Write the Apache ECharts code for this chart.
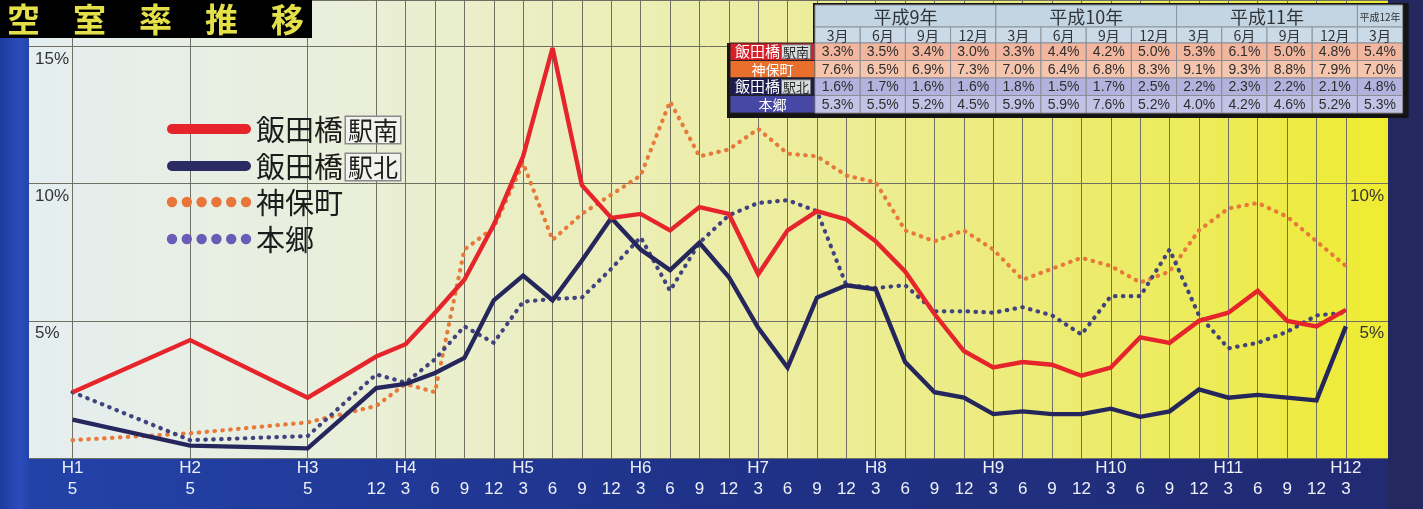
<!DOCTYPE html>
<html>
<head>
<meta charset="utf-8">
<title>空室率推移</title>
<script src="https://cdn.jsdelivr.net/npm/echarts@6/dist/echarts.min.js"></script>
<style>
  html, body { margin: 0; padding: 0; background: #1f3088; }
  #chart { width: 1423px; height: 509px; }
</style>
</head>
<body>
<div id="chart"></div>
<script>
// Survey dates: Heisei year and month of each observation
const heiseiYear  = [1, 2, 3, 3, 4, 4, 4, 4, 5, 5, 5, 5, 6, 6, 6, 6, 7, 7, 7, 7, 8, 8, 8, 8,
                     9, 9, 9, 9, 10, 10, 10, 10, 11, 11, 11, 11, 12];
const surveyMonth = [5, 5, 5, 12, 3, 6, 9, 12, 3, 6, 9, 12, 3, 6, 9, 12, 3, 6, 9, 12, 3, 6, 9, 12,
                     3, 6, 9, 12, 3, 6, 9, 12, 3, 6, 9, 12, 3];

// Vacancy rate (%) per area
const iidabashiSouth = [2.4, 4.3, 2.2, 3.7, 4.15, 5.3, 6.5, 8.5, 11.0, 14.95, 9.95, 8.75,
                        8.9, 8.3, 9.15, 8.9, 6.7, 8.3, 9.0, 8.7, 7.9, 6.8, 5.25, 3.9,
                        3.3, 3.5, 3.4, 3.0, 3.3, 4.4, 4.2, 5.0, 5.3, 6.1, 5.0, 4.8, 5.4];
const jimbocho       = [0.65, 0.9, 1.3, 1.9, 2.7, 2.4, 7.6, 8.4, 10.75, 7.95, 8.9, 9.6,
                        10.3, 13.0, 11.0, 11.25, 12.0, 11.1, 11.0, 10.3, 10.05, 8.3, 7.9, 8.3,
                        7.6, 6.5, 6.9, 7.3, 7.0, 6.4, 6.8, 8.3, 9.1, 9.3, 8.8, 7.9, 7.0];
const iidabashiNorth = [1.4, 0.45, 0.35, 2.55, 2.7, 3.1, 3.65, 5.75, 6.65, 5.75, 7.2, 8.75,
                        7.6, 6.85, 7.85, 6.6, 4.75, 3.3, 5.85, 6.3, 6.15, 3.5, 2.4, 2.2,
                        1.6, 1.7, 1.6, 1.6, 1.8, 1.5, 1.7, 2.5, 2.2, 2.3, 2.2, 2.1, 4.8];
const hongo          = [2.4, 0.65, 0.8, 3.05, 2.75, 3.6, 4.8, 4.2, 5.7, 5.8, 5.85, 6.9,
                        8.05, 6.1, 7.85, 8.85, 9.3, 9.4, 9.0, 6.3, 6.2, 6.3, 5.35, 5.35,
                        5.3, 5.5, 5.2, 4.5, 5.9, 5.9, 7.6, 5.2, 4.0, 4.2, 4.6, 5.2, 5.3];

// Percent ticks on the value axis
const percentTicks = [5, 10, 15];
const percentTicksRight = [5, 10];

// Year groups of the summary table (label, number of quarter columns)
const tableYears = [['平成9年', 4], ['平成10年', 4], ['平成11年', 4], ['平成12年', 1]];
const tableColumnCount = 13;

// Series: base name, boxed station side, values, colours
const areas = [
  { name: '飯田橋駅南', base: '飯田橋', side: '駅南', values: iidabashiSouth, color: '#e5252b', legendColor: '#e5252b', cell: '#d42028', rowBg: '#f2b69e', dotted: false },
  { name: '飯田橋駅北', base: '飯田橋', side: '駅北', values: iidabashiNorth, color: '#25275c', legendColor: '#2a2b62', cell: '#1c1c50', rowBg: '#b2b2de', dotted: false },
  { name: '神保町', base: '神保町', side: '', values: jimbocho, color: '#e67a3a', legendColor: '#e8763a', cell: '#e8702c', rowBg: '#f5c5ae', dotted: true },
  { name: '本郷', base: '本郷', side: '', values: hongo, color: '#41437f', legendColor: '#6a5bb6', cell: '#4747a6', rowBg: '#c2c2e7', dotted: true }
];
// Row order used in the table
const tableOrder = ['飯田橋駅南', '神保町', '飯田橋駅北', '本郷'];

// Months counted from January of Heisei 1
const toMonthIndex = (y, m) => (y - 1) * 12 + (m - 1);
const xValues = heiseiYear.map((y, i) => toMonthIndex(y, surveyMonth[i]));
const monthLabelAt = {};
xValues.forEach((t, i) => { monthLabelAt[t] = String(surveyMonth[i]); });
const yearTickValues = [];
const yearLabelAt = {};
heiseiYear.forEach((y, i) => {
  if (i === 0 || y !== heiseiYear[i - 1]) {
    yearTickValues.push(xValues[i]);
    yearLabelAt[xValues[i]] = 'H' + y;
  }
});

const X_MIN = -0.45, X_MAX = 138.3, Y_MAX = 16.7;
const GRID = { left: 29, right: 35, top: 0, bottom: 51 };
const gridColor = '#6f6f63';

// Line series (dotted ones drawn first, solid on top)
const drawOrder = ['神保町', '本郷', '飯田橋駅北', '飯田橋駅南'];
const series = drawOrder.map((nm, k) => {
  const a = areas.find(s => s.name === nm);
  return {
    name: a.name,
    type: 'line',
    z: 3 + k,
    symbol: 'none',
    smooth: false,
    data: a.values.map((v, i) => [xValues[i], v]),
    lineStyle: a.dotted
      ? { color: a.color, width: 4.2, type: [0.5, 7.4], cap: 'round' }
      : { color: a.color, width: 4.4, join: 'miter', miterLimit: 4 },
    emphasis: { disabled: true }
  };
});

// Summary table drawn with graphic primitives from the last quarters of each series
function buildTable() {
  const els = [];
  const x0 = 730, lw = 85, cw = 45.2, y0 = 5, h1 = 22, h2 = 16, rh = 17.5;
  const xd = x0 + lw;
  const right = xd + tableColumnCount * cw;
  const yRows = y0 + h1 + h2;
  const bottom = yRows + rh * tableOrder.length;
  const z = 50;
  const rect = (x, y, w, h, fill, stroke) => ({
    type: 'rect', z, shape: { x, y, width: w, height: h },
    style: { fill, stroke: stroke || null, lineWidth: stroke ? 1 : 0 }, silent: true
  });
  const text = (x, y, str, font, fill, extra) => ({
    type: 'text', z: z + 1, x, y, silent: true,
    style: Object.assign({ text: str, font, fill, align: 'center', verticalAlign: 'middle' }, extra || {})
  });
  // dark frame behind the table
  els.push(rect(xd - 2, y0 - 2, right - xd + 8, yRows - y0 + 2, '#141414'));
  els.push(rect(x0 - 3, yRows, right - x0 + 9, bottom - yRows + 5, '#141414'));
  // year header row
  let cx = xd;
  tableYears.forEach(([label, span]) => {
    els.push(rect(cx, y0, span * cw, h1, '#c3d5e2', '#8a949c'));
    els.push(text(cx + span * cw / 2, y0 + h1 / 2 + 1, label,
      span > 1 ? '18px "Noto Sans CJK JP"' : '10px "Noto Sans CJK JP"', '#303438'));
    cx += span * cw;
  });
  // month header row
  const months = surveyMonth.slice(-tableColumnCount);
  months.forEach((m, j) => {
    els.push(rect(xd + j * cw, y0 + h1, cw, h2, '#cadbe7', '#8a949c'));
    els.push(text(xd + j * cw + cw / 2, y0 + h1 + h2 / 2 + 1, m + '月', '14px "Noto Sans CJK JP"', '#303438'));
  });
  // data rows
  tableOrder.forEach((nm, r) => {
    const a = areas.find(s => s.name === nm);
    const y = yRows + r * rh;
    els.push(rect(x0, y, lw, rh, a.cell, '#222'));
    if (a.side) {
      els.push(text(x0 + lw / 2, y + rh / 2, '{a|' + a.base + '}{g| }{b|' + a.side + '}', '14px "Noto Sans CJK JP"', '#fff', {
        rich: {
          a: { fontSize: 15, fontFamily: 'Noto Sans CJK JP', fill: '#ffffff', verticalAlign: 'middle' },
          g: { width: 2, fontSize: 14 },
          b: { fontSize: 13, fontFamily: 'Noto Sans CJK JP', fill: '#2a2a2a', backgroundColor: '#d9dcdc',
               borderColor: '#777', borderWidth: 1, padding: [0, 1, 0, 1], verticalAlign: 'middle' }
        }
      }));
    } else {
      els.push(text(x0 + lw / 2, y + rh / 2, a.base, '14px "Noto Sans CJK JP"', '#ffffff'));
    }
    const vals = a.values.slice(-tableColumnCount);
    vals.forEach((v, j) => {
      els.push(rect(xd + j * cw, y, cw, rh, a.rowBg, '#8d8d95'));
      els.push(text(xd + j * cw + cw / 2, y + rh / 2 + 0.5, v.toFixed(1) + '%', '14px "Liberation Sans"', '#2e2e2e'));
    });
  });
  return els;
}

// Legend drawn as line samples with labels
function buildLegend() {
  const els = [];
  const rowsY = [129, 166, 202, 239];
  const x1 = 172, x2 = 246, tx = 256;
  areas.forEach((a, i) => {
    const y = rowsY[i];
    if (a.dotted) {
      for (let k = 0; k < 6; k++) {
        els.push({ type: 'circle', z: 60, silent: true, shape: { cx: x1 + k * (x2 - x1) / 5, cy: y, r: 5.2 }, style: { fill: a.legendColor } });
      }
    } else {
      els.push({ type: 'line', z: 60, silent: true, shape: { x1, y1: y, x2, y2: y },
        style: { stroke: a.legendColor, lineWidth: 10, lineCap: 'round' } });
    }
    const label = a.side ? '{a|' + a.base + '}{g| }{b|' + a.side + '}' : '{a|' + a.base + '}';
    els.push({
      type: 'text', z: 60, silent: true, x: tx, y: y + 1,
      style: {
        text: label, align: 'left', verticalAlign: 'middle',
        rich: {
          a: { fontSize: 29, fontFamily: 'Noto Sans CJK JP', fill: '#1c1c1c', verticalAlign: 'middle' },
          g: { width: 3, fontSize: 20 },
          b: { fontSize: 25, fontFamily: 'Noto Sans CJK JP', fill: '#1c1c1c', backgroundColor: '#f1f2ee',
               borderColor: '#8a8a8a', borderWidth: 1.5, padding: [1, 2, 0, 2], verticalAlign: 'middle' }
        }
      }
    });
  });
  return els;
}

const chart = echarts.init(document.getElementById('chart'), null, { renderer: 'canvas' });

chart.setOption({
  animation: false,
  backgroundColor: {
    type: 'linear', x: 0, y: 0, x2: 1, y2: 0,
    colorStops: [
      { offset: 0, color: '#2343aa' },
      { offset: 0.5, color: '#1f3288' },
      { offset: 1, color: '#222a70' }
    ]
  },
  title: {
    text: '空　室　率　推　移',
    left: 0, top: 0,
    padding: [2, 8, 2, 7],
    backgroundColor: '#000000',
    textStyle: { color: '#e3e04a', fontSize: 33, fontWeight: 'bold', fontFamily: 'Noto Sans CJK JP', lineHeight: 34 }
  },
  grid: {
    left: GRID.left, right: GRID.right, top: GRID.top, bottom: GRID.bottom,
    show: true, borderWidth: 0,
    backgroundColor: {
      type: 'linear', x: 0, y: 0, x2: 1, y2: 0,
      colorStops: [
        { offset: 0, color: '#e5eef0' },
        { offset: 0.22, color: '#e9efdc' },
        { offset: 0.45, color: '#eceeb4' },
        { offset: 0.7, color: '#ecec82' },
        { offset: 0.9, color: '#edeb50' },
        { offset: 1, color: '#efec30' }
      ]
    }
  },
  xAxis: [
    {
      type: 'value', min: X_MIN, max: X_MAX, position: 'bottom',
      axisLine: { show: false },
      axisTick: { show: false, customValues: xValues },
      splitLine: { show: true, lineStyle: { color: gridColor, width: 1 } },
      axisLabel: {
        customValues: xValues,
        margin: 23,
        color: '#eef0f8', fontSize: 17, fontFamily: 'Liberation Sans',
        formatter: v => monthLabelAt[v] || ''
      }
    },
    {
      type: 'value', min: X_MIN, max: X_MAX, position: 'bottom',
      axisLine: { show: false },
      axisTick: { show: false, customValues: yearTickValues },
      splitLine: { show: false },
      axisLabel: {
        customValues: yearTickValues,
        margin: 2,
        color: '#eef0f8', fontSize: 17, fontFamily: 'Liberation Sans',
        formatter: v => yearLabelAt[v] || ''
      }
    }
  ],
  yAxis: [
    {
      type: 'value', min: 0, max: Y_MAX, interval: 5, position: 'left',
      axisLine: { show: false }, axisTick: { show: false },
      splitLine: { show: true, lineStyle: { color: gridColor, width: 1 } },
      axisLabel: {
        inside: true, margin: 6, verticalAlign: 'top', padding: [4, 0, 0, 0],
        color: '#333333', fontSize: 17, fontFamily: 'Liberation Sans',
        formatter: v => percentTicks.includes(v) ? v + '%' : ''
      }
    },
    {
      type: 'value', min: 0, max: Y_MAX, interval: 5, position: 'right',
      axisLine: { show: false }, axisTick: { show: false },
      splitLine: { show: false },
      axisLabel: {
        inside: true, margin: 4, verticalAlign: 'top', padding: [4, 0, 0, 0],
        color: '#333333', fontSize: 17, fontFamily: 'Liberation Sans',
        formatter: v => percentTicksRight.includes(v) ? v + '%' : ''
      }
    }
  ],
  series: series,
  graphic: {
    elements: [
      // left and right frame strips
      { type: 'rect', z: -1, silent: true, shape: { x: 0, y: 0, width: 29, height: 509 },
        style: { fill: { type: 'linear', x: 0, y: 0, x2: 1, y2: 0,
          colorStops: [{ offset: 0, color: '#1d3a9e' }, { offset: 0.7, color: '#2b4dbd' }, { offset: 1, color: '#2444aa' }] } } },
      { type: 'rect', z: -1, silent: true, shape: { x: 1388, y: 0, width: 35, height: 509 },
        style: { fill: '#25285f' } }
    ].concat(buildLegend(), buildTable())
  }
});
</script>
</body>
</html>
